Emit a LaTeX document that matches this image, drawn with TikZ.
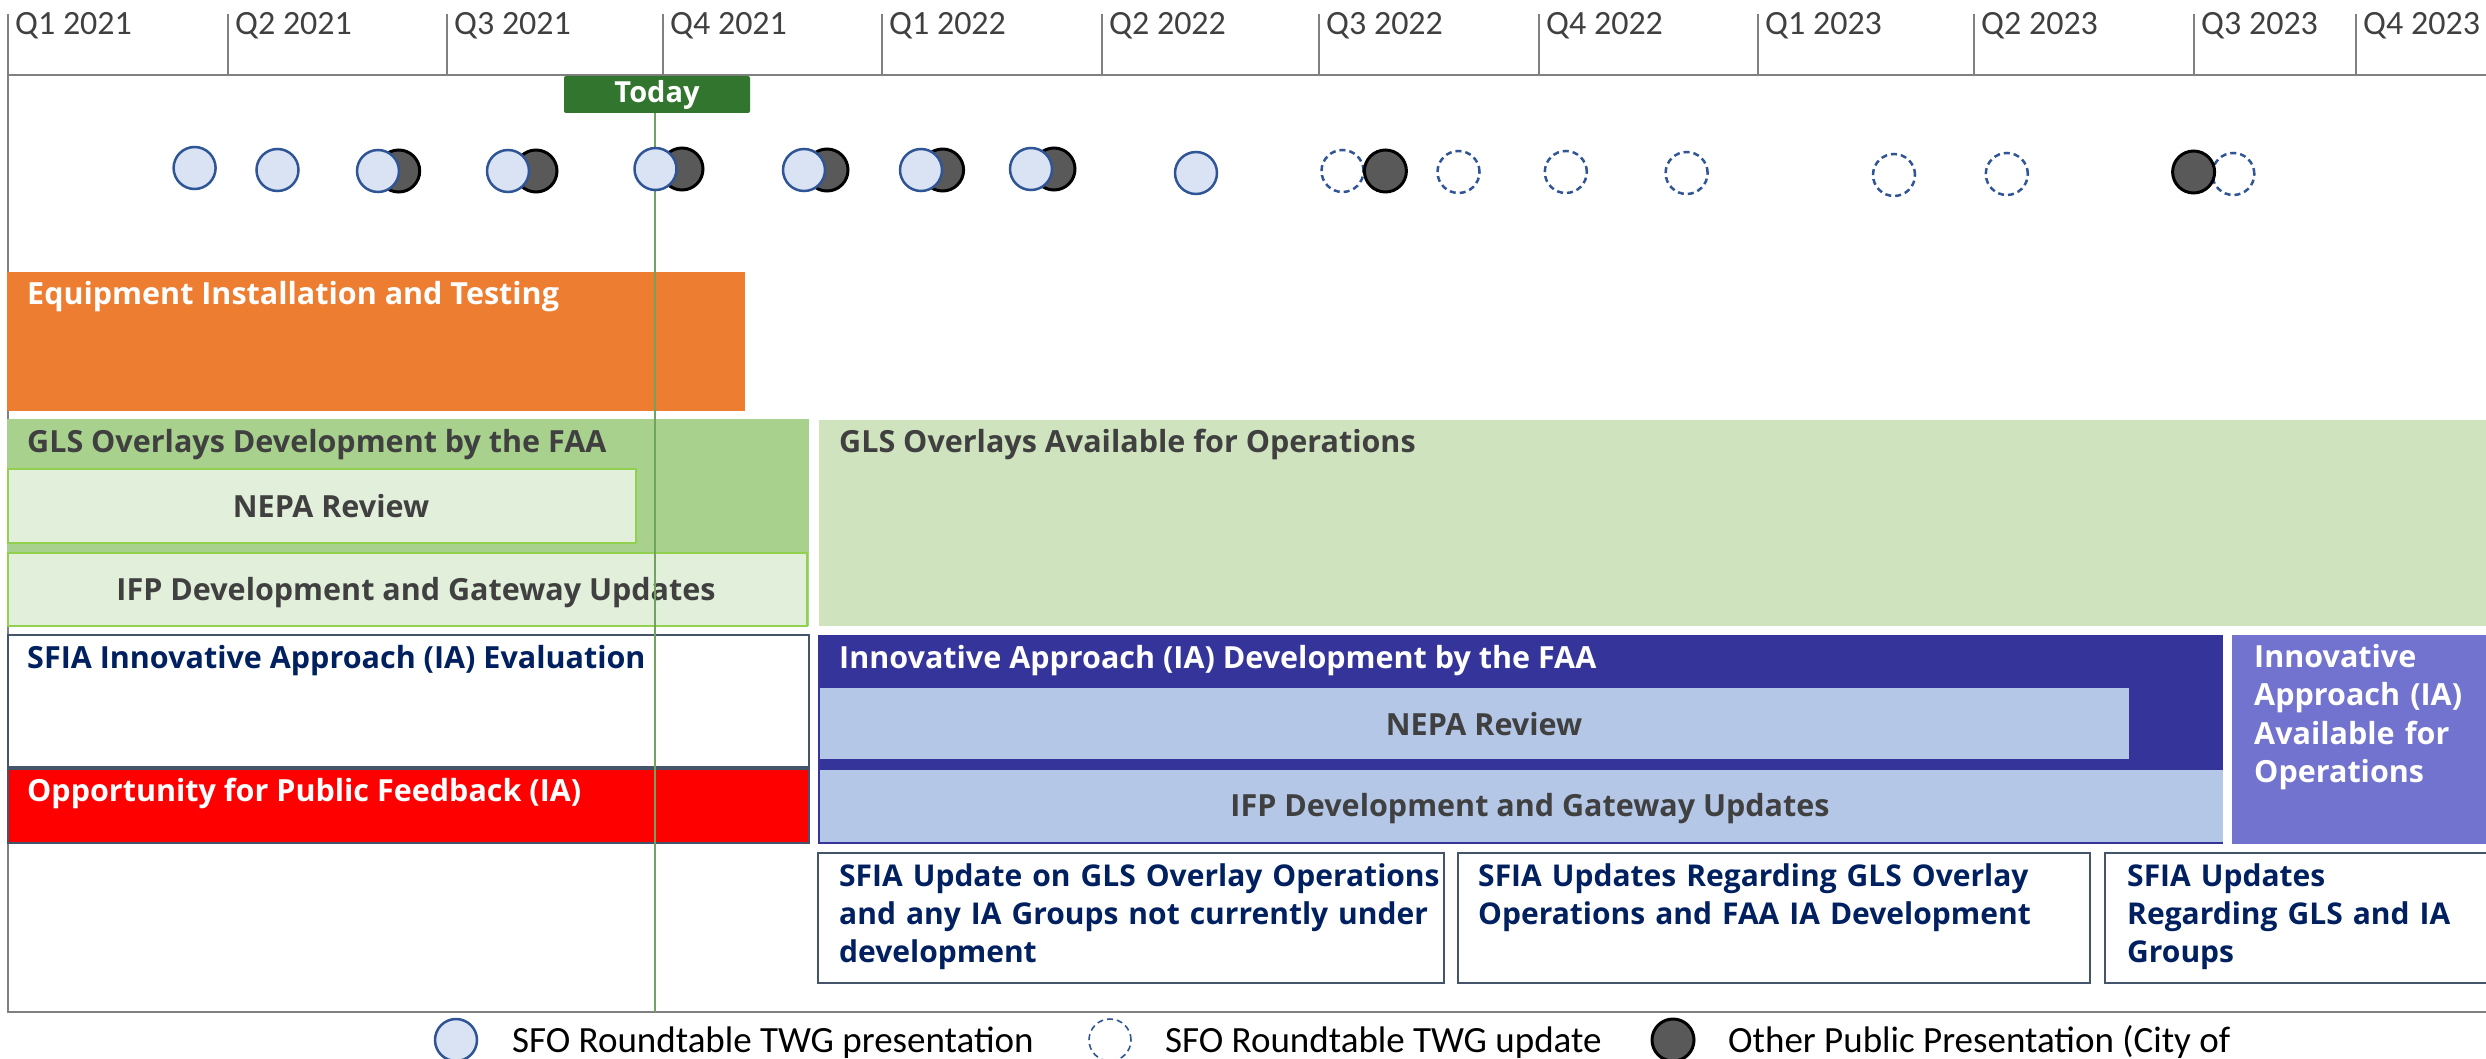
\documentclass[tikz,border=0pt]{standalone}
\usepackage{fontspec}
\setmainfont{Carlito}
\newfontfamily\barfont{Open Sans}
\definecolor{textgray}{HTML}{404040}
\definecolor{gridgray}{HTML}{808080}
\definecolor{orangebar}{HTML}{ED7D31}
\definecolor{glsdark}{HTML}{A9D18E}
\definecolor{glslight}{HTML}{CFE3BF}
\definecolor{glspale}{HTML}{E2EFDA}
\definecolor{glsedge}{HTML}{92D050}
\definecolor{iablue}{HTML}{35349A}
\definecolor{iapale}{HTML}{B4C7E7}
\definecolor{iapurple}{HTML}{7272CF}
\definecolor{navy}{HTML}{002060}
\definecolor{slate}{HTML}{44546A}
\definecolor{todaygreen}{HTML}{31752F}
\definecolor{todayline}{HTML}{6FA35E}
\definecolor{ringblue}{HTML}{2F5597}
\definecolor{ringfill}{HTML}{DAE3F3}
\definecolor{darkdot}{HTML}{595959}
\newcommand\barsize{\fontsize{30.5}{38}\selectfont}
\newcommand\updsize{\fontsize{30}{38}\selectfont}
\begin{document}
\begin{tikzpicture}[x=1pt,y=-1pt,
  qlab/.style={anchor=base west, inner sep=0, text=textgray, font=\fontsize{34}{40}\selectfont},
  tick/.style={draw=gridgray, line width=1.2pt},
  barbox/.style={anchor=north west, inner sep=0, outer sep=0, rectangle},
  bartext/.style={anchor=base west, inner sep=0, font=\barfont\bfseries\barsize},
  ctrtext/.style={anchor=base, inner sep=0, text=textgray, font=\barfont\bfseries\barsize},
  multitext/.style={bartext, align=left, text width=#1},
  lightdot/.style={circle, minimum size=42pt, inner sep=0, fill=ringfill, draw=ringblue, line width=2.5pt},
  darkdotstyle/.style={circle, minimum size=42pt, inner sep=0, fill=darkdot, draw=black, line width=3pt},
  dashdot/.style={circle, minimum size=42pt, inner sep=0, draw=ringblue, line width=2.5pt, dash pattern=on 6pt off 4pt},
  legtext/.style={anchor=base west, inner sep=0, text=black, font=\fontsize{37}{44}\selectfont},
  updbox/.style={barbox, fill=white, draw=slate, line width=2pt, minimum height=130pt}
]
\useasboundingbox (0,0) rectangle (2486,1059);
\clip (0,0) rectangle (2486,1059);

% quarter scale
\foreach \x/\q [count=\i] in {8/Q1 2021, 228/Q2 2021, 447/Q3 2021, 663/Q4 2021,
    882/Q1 2022, 1102/Q2 2022, 1319/Q3 2022, 1539/Q4 2022, 1758/Q1 2023,
    1974/Q2 2023, 2194/Q3 2023, 2356/Q4 2023} {
  \draw[tick] (\x,14) -- (\x,75);
  \node[qlab] (q\i) at (\x+7,35) {\q};
}
\draw[draw=gridgray, line width=2.5pt] (8,75) -- (2486,75);
\draw[draw=gridgray, line width=1.5pt] (8,75) -- (8,1012) -- (2486,1012);

% GLS overlay track
\node[barbox, fill=orangebar, minimum width=738.5pt, minimum height=139pt] (equip) at (6.5,272) {};
\node[bartext, text=white] (equipt) at (27,304) {Equipment Installation and Testing};

\node[barbox, fill=glsdark, minimum width=802.5pt, minimum height=207pt] (glsdev) at (6.5,419) {};
\node[bartext, text=textgray] (glsdevt) at (27,452) {GLS Overlays Development by the FAA};
\node[barbox, fill=glspale, draw=glsedge, line width=2pt, minimum width=628pt, minimum height=74pt] (glsnepa) at (8,469) {};
\node[ctrtext] (glsnepat) at (331,517) {NEPA Review};
\node[barbox, fill=glspale, draw=glsedge, line width=2pt, minimum width=799pt, minimum height=73pt] (glsifp) at (8,553) {};
\node[ctrtext] (glsifpt) at (416,600) {IFP Development and Gateway Updates};

\node[barbox, fill=glslight, minimum width=1680pt, minimum height=206pt] (glsavail) at (819,420) {};
\node[bartext, text=textgray] (glsavailt) at (839,452) {GLS Overlays Available for Operations};

% innovative approach track
\node[barbox, fill=white, draw=slate, line width=2pt, minimum width=801pt, minimum height=132pt] (iaeval) at (8,635) {};
\node[bartext, text=navy] (iaevalt) at (27,668) {SFIA Innovative Approach (IA) Evaluation};
\node[barbox, fill=red, draw=slate, line width=2pt, minimum width=801pt, minimum height=74pt] (feedback) at (8,769) {};
\node[bartext, text=white] (feedbackt) at (27,801) {Opportunity for Public Feedback (IA)};

\node[barbox, fill=iablue, minimum width=1405pt, minimum height=209pt] (iadev) at (818,635) {};
\node[bartext, text=white] (iadevt) at (839,668) {Innovative Approach (IA) Development by the FAA};
\node[barbox, fill=iapale, minimum width=1309pt, minimum height=71pt] (ianepa) at (820,688) {};
\node[ctrtext] (ianepat) at (1484,735) {NEPA Review};
\node[barbox, fill=iapale, minimum width=1403pt, minimum height=72pt] (iaifp) at (820,770) {};
\node[ctrtext] (iaifpt) at (1530,816) {IFP Development and Gateway Updates};

\node[barbox, fill=iapurple, minimum width=270pt, minimum height=209pt] (iaavail) at (2232,635) {};
\node[multitext=250pt, text=white, font=\barfont\bfseries\fontsize{30.5}{38.5}\selectfont] (iaavailt) at (2254,667)
  {Innovative\\Approach (IA)\\Available for\\Operations};

% update boxes
\node[updbox, minimum width=626pt] (upd1) at (818,853) {};
\node[multitext=620pt, text=navy, font=\barfont\bfseries\updsize] (upd1t) at (839,886)
  {SFIA Update on GLS Overlay Operations\\and any IA Groups not currently under\\development};
\node[updbox, minimum width=632pt] (upd2) at (1458,853) {};
\node[multitext=620pt, text=navy, font=\barfont\bfseries\updsize] (upd2t) at (1478,886)
  {SFIA Updates Regarding GLS Overlay\\Operations and FAA IA Development};
\node[updbox, minimum width=400pt] (upd3) at (2105,853) {};
\node[multitext=360pt, text=navy, font=\barfont\bfseries\updsize] (upd3t) at (2127,886)
  {SFIA Updates\\Regarding GLS and IA\\Groups};

% today marker
\node[fill=todaygreen, rounded corners=2pt, minimum width=186pt, minimum height=37pt, inner sep=0,
      text=white, font=\barfont\bfseries\fontsize{29}{32}\selectfont] (today) at (657,94.5) {Today};
\coordinate (todayend) at (655,1012);
\draw[draw=todayline, line width=1.6pt] (todayend |- today.south) -- (todayend);

% presentations and updates
\node[dashdot] (u1) at (1342.5,171) {};
\node[dashdot] (u2) at (1458.5,172) {};
\node[dashdot] (u3) at (1565.8,172) {};
\node[dashdot] (u4) at (1686.6,173) {};
\node[dashdot] (u5) at (1894,175) {};
\node[dashdot] (u6) at (2006.8,174) {};
\node[dashdot] (u7) at (2233.3,174) {};

\node[darkdotstyle] (o1) at (398.7,171) {};
\node[darkdotstyle] (o2) at (536,171) {};
\node[darkdotstyle] (o3) at (682,169) {};
\node[darkdotstyle] (o4) at (827,170) {};
\node[darkdotstyle] (o5) at (942.6,170) {};
\node[darkdotstyle] (o6) at (1054,169) {};
\node[darkdotstyle] (o7) at (1385.4,171) {};
\node[darkdotstyle] (o8) at (2193.6,172) {};

\node[lightdot] (p1) at (194.6,168) {};
\node[lightdot] (p2) at (277.5,170) {};
\node[lightdot] (p3) at (378,171) {};
\node[lightdot] (p4) at (508,171) {};
\node[lightdot] (p5) at (655.5,169) {};
\node[lightdot] (p6) at (804,170) {};
\node[lightdot] (p7) at (921,170) {};
\node[lightdot] (p8) at (1031,169) {};
\node[lightdot] (p9) at (1196,173) {};

% legend
\node[lightdot] (k1) at (456,1040) {};
\node[legtext] (k1t) at (512,1052) {SFO Roundtable TWG presentation};
\node[dashdot, line width=1.6pt] (k2) at (1110,1040) {};
\node[legtext] (k2t) at (1165,1052) {SFO Roundtable TWG update};
\node[darkdotstyle] (k3) at (1673,1040) {};
\node[legtext] (k3t) at (1728,1052) {Other Public Presentation (City of};
\end{tikzpicture}
\end{document}
